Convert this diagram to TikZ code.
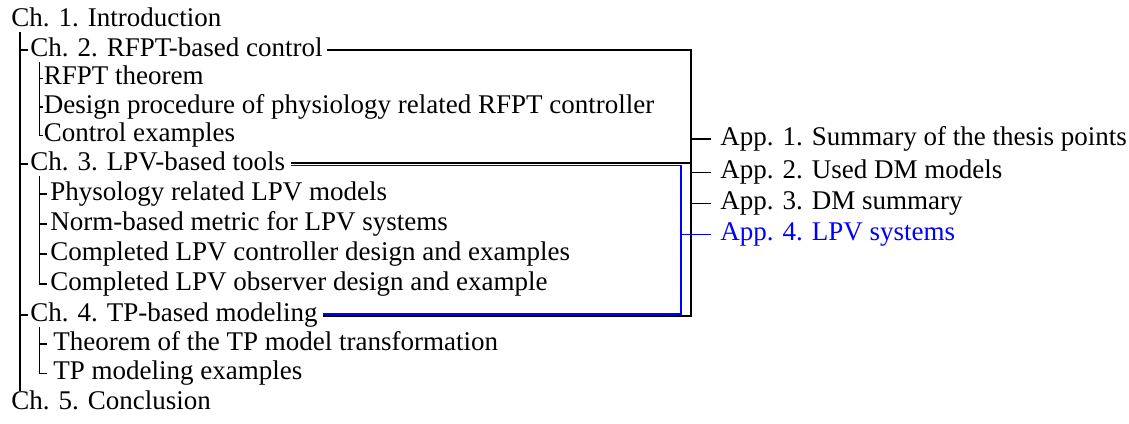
\documentclass[tikz,border=0pt]{standalone}
\usepackage{fontspec}
\setmainfont{Liberation Serif}

\begin{document}
\begin{tikzpicture}[x=0.5pt,y=-0.5pt,
    item/.style={anchor=west, inner sep=0pt, text height=9pt, text depth=3pt,
                 font=\fontsize{13.5}{16}\selectfont},
    tree/.style={line width=0.7pt},
    link/.style={line width=0.75pt, black},
    bluelink/.style={line width=0.7pt, blue}]
    \useasboundingbox (0,0) rectangle (1129,423);

    % chapters and sections
    \node[item] (ch1) at (11,20) {Ch. 1. Introduction};
    \node[item] (ch2) at (30,50) {Ch. 2. RFPT-based control};
    \node[item] (rfpt) at (43.5,78.5) {RFPT theorem};
    \node[item] (design) at (43.5,107) {Design procedure of physiology related RFPT controller};
    \node[item] (ctrlex) at (43.5,135.5) {Control examples};
    \node[item] (ch3) at (30,164) {Ch. 3. LPV-based tools};
    \node[item] (lpvmod) at (50,194) {Physology related LPV models};
    \node[item] (norm) at (50,224) {Norm-based metric for LPV systems};
    \node[item] (lpvctrl) at (50,254) {Completed LPV controller design and examples};
    \node[item] (lpvobs) at (50,284) {Completed LPV observer design and example};
    \node[item] (ch4) at (30,315) {Ch. 4. TP-based modeling};
    \node[item] (tpthm) at (53,344) {Theorem of the TP model transformation};
    \node[item] (tpex) at (53,373.5) {TP modeling examples};
    \node[item] (ch5) at (11,403) {Ch. 5. Conclusion};

    % appendices
    \node[item] (app1) at (720,139) {App. 1. Summary of the thesis points};
    \node[item] (app2) at (720,172.7) {App. 2. Used DM models};
    \node[item] (app3) at (720,203.3) {App. 3. DM summary};
    \node[item, text=blue] (app4) at (720,234.3) {App. 4. LPV systems};

    % tree on the left
    \coordinate (mainx) at (20,0);
    \coordinate (subx) at (39.5,0);
    \draw[tree] (mainx |- ch1.south) -- (mainx |- ch5.north);
    \foreach \c in {ch2,ch3,ch4}
        \draw[tree] (mainx |- \c.west) -- ([xshift=-1pt]\c.west);
    \draw[tree] (subx |- ch2.south) |- ([xshift=-0.25pt]ctrlex.west);
    \foreach \s in {rfpt,design}
        \draw[tree] (subx |- \s.west) -- ([xshift=-0.25pt]\s.west);
    \draw[tree] (subx |- ch3.south) |- ([xshift=-1.75pt]lpvobs.west);
    \foreach \s in {lpvmod,norm,lpvctrl}
        \draw[tree] (subx |- \s.west) -- ([xshift=-1.75pt]\s.west);
    \draw[tree] (subx |- ch4.south) |- ([xshift=-3.25pt]tpex.west);
    \draw[tree] (subx |- tpthm.west) -- ([xshift=-3.25pt]tpthm.west);

    % links to the appendices
    \coordinate (bx) at (691,0);
    \coordinate (lx) at (681,0);
    \draw[link] ([xshift=2pt]ch2.east) -| ([yshift=-0.6pt]bx |- ch4.east)
        -- ([xshift=2.5pt,yshift=-0.6pt]ch4.east);
    \draw[link] ([xshift=2.5pt,yshift=0.6pt]ch3.east) -- ([yshift=0.6pt]bx |- ch3.east);
    \draw[bluelink] ([xshift=2.5pt,yshift=-0.6pt]ch3.east) -| ([yshift=0.6pt]lx |- ch4.east)
        -- ([xshift=2.5pt,yshift=0.6pt]ch4.east);
    \foreach \a in {app1,app2,app3}
        \draw[link] (bx |- \a.west) -- ([xshift=-4.5pt]\a.west);
    \draw[bluelink] (lx |- app4.west) -- ([xshift=-4.5pt]app4.west);
\end{tikzpicture}
\end{document}
